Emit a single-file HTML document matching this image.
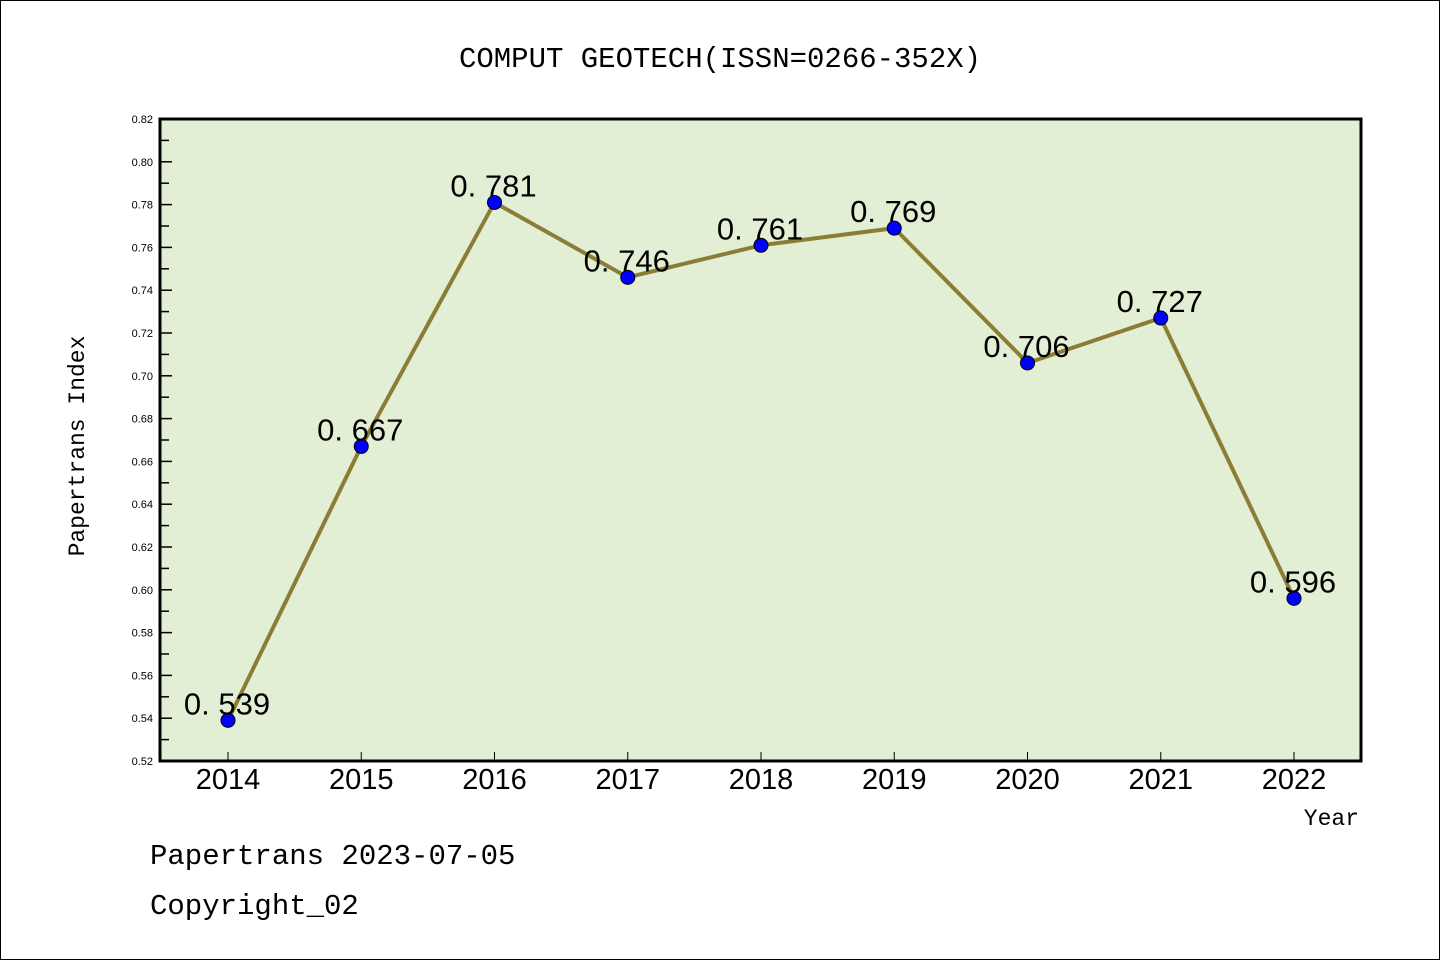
<!DOCTYPE html>
<html><head><meta charset="utf-8"><style>
html,body{margin:0;padding:0;background:#fff}
svg{display:block;font-family:"Liberation Sans","WenQuanYi Zen Hei",sans-serif}
</style></head><body>
<svg id="chart" width="1440" height="960" viewBox="0 0 1440 960">
<rect x="0.5" y="0.5" width="1439" height="959" fill="#fff" stroke="#000"/>
<text x="720" y="67" text-anchor="middle" font-size="29" font-family="'WenQuanYi Zen Hei','Liberation Mono',monospace">COMPUT GEOTECH(ISSN=0266-352X)</text>
<rect x="160" y="119" width="1201" height="642" fill="#e2efd5"/>
<g id="axes"></g>
<g id="marks"></g>
<rect x="160" y="119" width="1201" height="642" fill="none" stroke="#000" stroke-width="3"/>
<text transform="translate(84,446) rotate(-90)" text-anchor="middle" font-size="23" font-family="'WenQuanYi Zen Hei','Liberation Mono',monospace">Papertrans Index</text>
<text x="1359" y="825" text-anchor="end" font-size="23" font-family="'WenQuanYi Zen Hei','Liberation Mono',monospace">Year</text>
<text x="150" y="864" font-size="29" font-family="'WenQuanYi Zen Hei','Liberation Mono',monospace">Papertrans 2023-07-05</text>
<text x="150" y="914" font-size="29" font-family="'WenQuanYi Zen Hei','Liberation Mono',monospace">Copyright_02</text>
</svg>
<script>
const years = ["2014","2015","2016","2017","2018","2019","2020","2021","2022"];
const values = [0.539,0.667,0.781,0.746,0.761,0.769,0.706,0.727,0.596];
const valueLabels = ["0. 539","0. 667","0. 781","0. 746","0. 761","0. 769","0. 706","0. 727","0. 596"];
const yTicks = [0.52,0.54,0.56,0.58,0.60,0.62,0.64,0.66,0.68,0.70,0.72,0.74,0.76,0.78,0.80,0.82];
const yMin = 0.52, yMax = 0.82;
const NS = "http://www.w3.org/2000/svg";
function yS(v){ return 761 - (v - yMin) / (yMax - yMin) * 642; }
function xS(i){ return 228 + i * (1294 - 228) / (years.length - 1); }
const axes = document.getElementById('axes');
const marks = document.getElementById('marks');
function mk(tag, attrs, parent){ const e = document.createElementNS(NS, tag); for (const k in attrs) e.setAttribute(k, attrs[k]); parent.appendChild(e); return e; }
yTicks.forEach((t, i) => {
  const y = yS(t);
  const tk = mk('line', {x1:160, x2:172, y1:y, y2:y, stroke:'#000', 'stroke-width':1.5}, axes);
  
  
  const lb = mk('text', {x:153, y:y+4, 'text-anchor':'end', 'font-size':11}, axes);
  lb.textContent = t.toFixed(2);
  
  
  if (i < yTicks.length - 1) {
    const ym = yS(t + 0.01);
    const mn = mk('line', {x1:160, x2:169, y1:ym, y2:ym, stroke:'#000', 'stroke-width':1.5}, axes);
    
    
  }
});
years.forEach((yr, i) => {
  const x = xS(i);
  const tk = mk('line', {x1:x, x2:x, y1:761, y2:752, stroke:'#000', 'stroke-width':1}, axes);
  
  
  const lb = mk('text', {x:x, y:789, 'text-anchor':'middle', 'font-size':29}, axes);
  lb.textContent = yr;
  
  
});
const pts = values.map((v, i) => xS(i) + ',' + yS(v)).join(' ');
const line = mk('polyline', {points:pts, fill:'none', stroke:'#8b7d35', 'stroke-width':4, 'stroke-linejoin':'round'}, marks);


values.forEach((v, i) => {
  const c = mk('circle', {cx:xS(i), cy:yS(v), r:7, fill:'#0000ff', stroke:'#000', 'stroke-width':1}, marks);
  
  
  const t = mk('text', {x:xS(i)-1, y:yS(v)-6, 'text-anchor':'middle', 'font-size':31, 'font-family':"'WenQuanYi Zen Hei','Liberation Sans',sans-serif"}, marks);
  t.textContent = valueLabels[i];
  
  
});
</script>
</body></html>
